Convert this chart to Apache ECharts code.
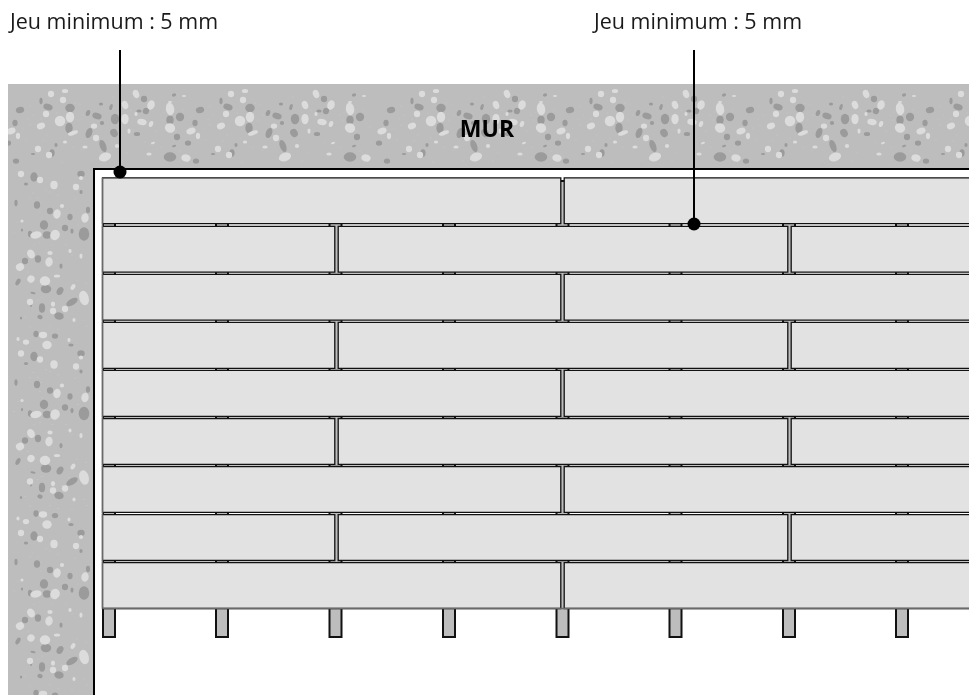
<!DOCTYPE html>
<html>
<head>
<meta charset="utf-8">
<style>html,body{margin:0;padding:0;background:#fff}#c{width:969px;height:695px}</style>
<script src="https://cdn.jsdelivr.net/npm/echarts@6/dist/echarts.min.js"></script>
</head>
<body>
<div id="c"></div>
<script>
// Plan values, in plan units (one unit is one pixel of the 969x695 plan)
const labelTexts = ['Jeu minimum : 5 mm', 'Jeu minimum : 5 mm'];
const labelAnchors = [[10, 34], [594, 34]];
const wallName = 'MUR';
const wallNameAnchor = [487, 142];
const leaderTops = [[120, 50], [694, 50]];
const leaderDots = [[120, 172], [694, 224]];
const rowTops = [177.8, 226.3, 274.3, 322.4, 370.4, 418.5, 466.5, 514.6, 562.6];
const rowHeight = 45.9;
const oddRowJoints = [562.5];
const evenRowJoints = [336.5, 789.5];
const spacerCentres = [109, 222, 335.5, 449, 562.5, 675.5, 789, 902];

// Aggregates of the concrete: x, y, half-width, half-height, tilt
const topLight = [[51,94,3,3,0],[65,91,3,2,0],[63,100,3,3,0],[70,117,4,5,0],[46,114,3,3,0],[60,121,5,5,0],[41,126,4,3,-20],[11,131,4.5,3,-20],[18,136,2,3,0],[73,133,5,2,-20],[94,126,3,2.5,0],[96,138,3,3,0],[105,157,6,4,-20],[38,149,3,3,0],[49,155,3,3,0],[65,142,2,1.5,0],[85,147,2.5,1.5,0],[136,94,3,4,-20],[125,105,3,4,-20],[151,105,3.5,4.5,20],[136,114,1.5,2,0],[125,119,3.5,5,0],[142,122,4.5,3,10],[151,124,2,3,20],[129,131,1.5,2.5,0],[170,109,4,6,-10],[170,128,5,4.5,20],[153,143,2,1,-20],[117,146,2,2,0],[149,154,2.5,1.5,0],[186,158,4.5,3.5,10],[184,96,2,1,0],[170,102,2,1,0]];
const topDark = [[48,107,4.5,3,15],[20,110,4,3,-15],[41,101,1.5,3,0],[70,108,4.5,4,0],[97,116,4.5,3,15],[88,113,2,3,20],[101,104,2,1.5,0],[15,123,2.5,3,0],[69,128,3.5,5,0],[89,133,3,5,20],[102,123,2,2,0],[103,146,3,6,-20],[52,153,2.5,3.5,0],[56,145,1.5,2,0],[16,161,3,2.5,0],[33,154,2,1,0],[144,99,3,3,0],[146,111,3,3,20],[139,111,2.5,1.5,0],[115,119,4,5,0],[114,133,3.5,4,-30],[137,134,3,2,0],[170,120,3.5,4,0],[180,117,4,4,0],[177,137,3,3,0],[8,143,3,2.5,0],[170,157,6,4.5,0],[174,146,2,1,-15],[174,95,2,1.5,-15],[111,107,1.5,3,15]];
const leftLight = [[21,174,3,3,0],[40,180,3,3,0],[54,185,3.5,4,0],[76,187,3,3,0],[81,178,2,2,0],[57,214,3.5,4.5,15],[62,206,2,2,0],[85,218,3.5,4.5,10],[22,221,1.5,1.5,0],[36,235,5.5,3.5,-10],[55,235,4.5,5,30],[31,254,3.5,4.5,-30],[50,253,2.5,2,0],[49,262,3.5,4.5,10],[20,267,4,3.5,-30],[70,251,1.5,2,0],[81,256,1.5,2.5,0],[31,279,3.5,3.5,30],[45,281,5,4.5,0],[57,276,3,1.5,0],[73,287,2,3,30],[84,298,4.5,7,-15],[30,302,3,3,0],[53,304,2,2.5,0],[53,311,3,3,0],[65,309,3,3,0],[74,320,1.5,2,0],[43,335,4,3,0],[47,345,4.5,4,0],[18,339,1.5,2,0],[26,342,3,2.5,0],[69,340,1.5,2,0]];
const leftDark = [[34,177,3.5,4.5,0],[26,184,2,1.5,0],[81,174,3.5,3,0],[81,192,1.5,2,0],[16,203,1.5,3,0],[37,205,3,3.5,0],[50,211,3,3,0],[88,210,2,3,0],[70,217,2.5,3,0],[44,225,4,4.5,0],[65,228,3,3,0],[72,231,1.5,2.5,0],[84,234,5,6.5,0],[47,235,4,3.5,0],[30,234,2,3,0],[22,230,1,1.5,0],[38,259,3,3.5,0],[25,261,3,3,0],[61,266,1.5,2.5,0],[18,282,2,3.5,30],[46,289,5,4,0],[60,291,3,4,30],[72,302,6,3,-30],[33,293,2.5,1,10],[31,305,1,2,0],[42,308,3,4.5,0],[59,316,4.5,3.5,15],[40,317,2.5,2,15],[21,318,1,1.5,0],[36,334,2.5,3,0],[55,336,3,2.5,0],[71,345,2.5,1.5,0]];
const topFlecks = [[30,106],[33,115],[28,119],[57,113],[75,103],[80,104],[83,115],[78,120],[23,128],[30,125],[41,119],[47,135],[73,147],[60,138],[43,141],[26,140],[82,150],[113,97],[131,110],[160,115],[164,112],[163,120],[176,131],[156,131],[145,142],[180,151],[161,147],[127,152],[92,160],[122,161],[183,110],[190,127],[62,162]];
const leftFlecks = [[46,190],[50,192],[30,198],[33,193],[38,198],[41,203],[58,195],[75,199],[40,212],[42,218],[78,225],[18,222],[14,232],[34,245],[40,243],[52,245],[66,245],[72,255],[28,272],[77,280],[86,283],[42,297],[38,300],[69,298],[62,306],[25,317],[84,320],[87,326],[72,330],[50,326],[58,329],[30,327]];
const topTileShifts = [0, 180, 371, 550, 730, 910];
const leftTileShifts = [0, 179.5, 359];

const chart = echarts.init(document.getElementById('c'), null, {renderer: 'canvas'});

const rectSeries = (data, style, z) => ({
  type: 'custom', coordinateSystem: 'cartesian2d', silent: true, z, animation: false,
  data, encode: {x: [0, 2], y: [1, 3]},
  renderItem(params, api) {
    const a = api.coord([api.value(0), api.value(1)]);
    const b = api.coord([api.value(2), api.value(3)]);
    return {type: 'rect', shape: {x: a[0], y: a[1], width: b[0] - a[0], height: b[1] - a[1]}, style};
  }
});
const lineSeries = (data, stroke, lineWidth, z) => ({
  type: 'custom', coordinateSystem: 'cartesian2d', silent: true, z, animation: false,
  data, encode: {x: [0, 2], y: [1, 3]},
  renderItem(params, api) {
    const a = api.coord([api.value(0), api.value(1)]);
    const b = api.coord([api.value(2), api.value(3)]);
    return {type: 'line', shape: {x1: a[0], y1: a[1], x2: b[0], y2: b[1]}, style: {stroke, lineWidth, lineCap: 'butt'}};
  }
});
const textSeries = (data, font, z) => ({
  type: 'custom', coordinateSystem: 'cartesian2d', silent: true, z, animation: false,
  data, encode: {x: 0, y: 1},
  renderItem(params, api) {
    const p = api.coord([api.value(0), api.value(1)]);
    return {type: 'text', style: {x: p[0], y: p[1], text: data[params.dataIndex][2], font: font.css, fill: font.fill, textAlign: font.align, textVerticalAlign: 'bottom'}};
  }
});
const pebbleSeries = (data, color, z) => ({
  type: 'scatter', silent: true, z, animation: false, clip: false, symbol: 'circle',
  data, itemStyle: {color, opacity: 1},
  symbolSize: v => [2.1 * v[2], 2.1 * v[3]],
  symbolRotate: (v) => -v[4],
  encode: {x: 0, y: 1}
});
const spread = (list, shifts, axis) => shifts.flatMap(s => list.map(p => {
  const q = [p[0], p[1], p[2] === undefined ? 0.5 : p[2], p[3] === undefined ? 0.5 : p[3], p[4] || 0];
  q[axis] += s;
  return q;
}));

const boards = rowTops.flatMap((top, i) => {
  const joints = i % 2 === 0 ? oddRowJoints : evenRowJoints;
  const edges = [102.5, ...joints, 975];
  return edges.slice(0, -1).map((e, k) => [k === 0 ? e : e + 1.7, top, edges[k + 1] - (k === edges.length - 2 ? 0 : 1.7), top + rowHeight]);
});
const spacers = spacerCentres.map(c => [c - 6, 181, c + 6, 637]);

const light = '#dcdcdc', dark = '#9b9b9b', wall = '#bdbdbd';
const lastBottom = rowTops[rowTops.length - 1] + rowHeight;

chart.setOption({
  animation: false,
  grid: {left: 0, right: 0, top: 0, bottom: 0, containLabel: false},
  xAxis: {type: 'value', min: 0, max: 969, show: false},
  yAxis: {type: 'value', min: 0, max: 695, inverse: true, show: false},
  tooltip: {show: false},
  series: [
    rectSeries([[8, 84, 969, 695]], {fill: wall}, 1),
    pebbleSeries(spread(topFlecks, topTileShifts, 0).concat(spread(leftFlecks, leftTileShifts, 1)), '#cdcdcd', 2),
    pebbleSeries(spread(topDark, topTileShifts, 0).concat(spread(leftDark, leftTileShifts, 1)), dark, 2),
    pebbleSeries(spread(topLight, topTileShifts, 0).concat(spread(leftLight, leftTileShifts, 1)), light, 3),
    rectSeries([[-20, -20, 8, 715], [-20, -20, 990, 84]], {fill: '#fff'}, 4),
    rectSeries([[94, 169, 990, 715]], {fill: '#fff', stroke: '#000', lineWidth: 2}, 5),
    rectSeries(spacers, {fill: wall, stroke: '#111', lineWidth: 2}, 6),
    rectSeries(boards, {fill: '#e2e2e2', stroke: '#111', lineWidth: 1.3}, 7),
    lineSeries([[102.5, 177.8, 102.5, lastBottom], [102.5, lastBottom, 969, lastBottom]], '#6a6a6a', 1.4, 7.5),
    lineSeries(leaderTops.map((t, i) => [t[0], t[1], leaderDots[i][0], leaderDots[i][1]]), '#000', 2, 8),
    {type: 'scatter', silent: true, z: 9, animation: false, data: leaderDots, symbol: 'circle', symbolSize: 13, itemStyle: {color: '#000', opacity: 1}},
    textSeries(labelAnchors.map((p, i) => [p[0], p[1], labelTexts[i]]), {css: '400 21.5px "Open Sans"', align: 'left', fill: '#1a1a1a'}, 10),
    textSeries([[wallNameAnchor[0], wallNameAnchor[1], wallName]], {css: '700 23px "Open Sans"', align: 'center', fill: '#000'}, 10)
  ]
});
</script>
</body>
</html>
